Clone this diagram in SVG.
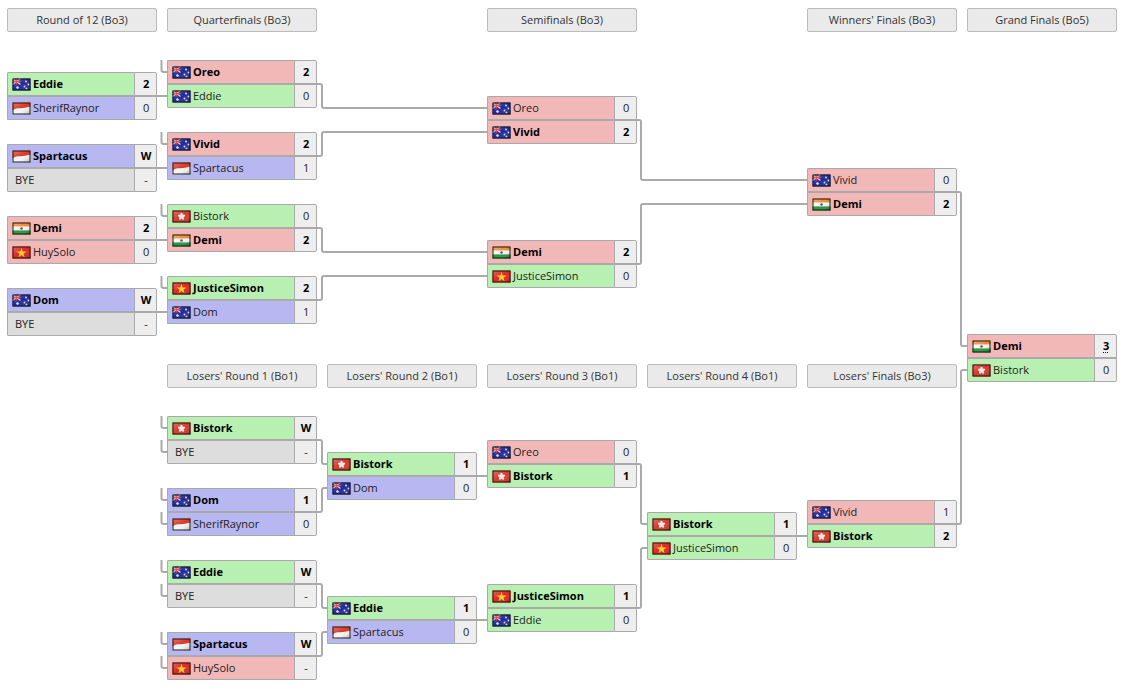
<svg xmlns="http://www.w3.org/2000/svg" width="1125" height="688" viewBox="0 0 1125 688">
<style>
text{font-family:"Open Sans","Noto Sans","Liberation Sans",sans-serif;font-size:11px;fill:#222}
.h rect{fill:#eaeaea;stroke:#bbb;stroke-width:1}
.h text{text-anchor:middle;fill:#333}
.g{fill:#b7f0b1}.r{fill:#f2b7b7}.b{fill:#b7b7f2}.y{fill:#dddddd}.s{fill:#eeeeee}
.f{fill:none;stroke:#aaa;stroke-width:1}
.sep{stroke:#aaa;stroke-width:2;fill:none}
.n{font-weight:400}.w{font-weight:700;fill:#000}
.sc{text-anchor:middle}
.fb{fill:none;stroke:#1a1a1a;stroke-width:1}
#connectors path{fill:none;stroke:#aaa;stroke-width:2;stroke-linejoin:round}
</style>
<defs>
<linearGradient id="sh" x1="0" y1="0" x2="1" y2="1"><stop offset="0" stop-color="#fff" stop-opacity=".3"/><stop offset=".5" stop-color="#fff" stop-opacity="0"/><stop offset="1" stop-color="#000" stop-opacity=".3"/></linearGradient>
<g id="petal"><ellipse cx="9" cy="4.200" rx="1.300" ry="2" fill="#f8e6e2"/></g>
<symbol id="au" width="24" height="24" overflow="visible"><g transform="translate(-.5 .5)"><rect width="18" height="12" fill="#1f2a9a"/><path d="M0 0L8 6M8 0L0 6" stroke="#d8c8d8" stroke-width="1.300"/><path d="M4 0V6M0 3H8" stroke="#d33" stroke-width="1.500"/><circle cx="13.500" cy="3" r="1" fill="#dde"/><circle cx="16" cy="6" r="1" fill="#dde"/><circle cx="12" cy="8" r="1" fill="#dde"/><circle cx="14" cy="10" r="1" fill="#dde"/><circle cx="5" cy="9" r="1.200" fill="#eef"/><rect width="18" height="12" fill="url(#sh)"/><rect class="fb" x=".5" y=".5" width="17" height="11"/></g></symbol>
<symbol id="id" width="24" height="24" overflow="visible"><g transform="translate(-.5 .5)"><rect width="18" height="12" fill="#f6f6f6"/><path d="M0 8C5 4 10 7 18 4V0H0Z" fill="#d8382a"/><rect width="18" height="12" fill="url(#sh)"/><rect class="fb" x=".5" y=".5" width="17" height="11"/></g></symbol>
<symbol id="hk" width="24" height="24" overflow="visible"><g transform="translate(-.5 .5)"><rect width="18" height="12" fill="#d8382a"/><use href="#petal"/><use href="#petal" transform="rotate(72 9 6)"/><use href="#petal" transform="rotate(144 9 6)"/><use href="#petal" transform="rotate(216 9 6)"/><use href="#petal" transform="rotate(288 9 6)"/><rect width="18" height="12" fill="url(#sh)"/><rect class="fb" x=".5" y=".5" width="17" height="11"/></g></symbol>
<symbol id="in" width="24" height="24" overflow="visible"><g transform="translate(-.5 .5)"><rect width="18" height="4.200" fill="#ee8a30"/><rect y="4" width="18" height="4" fill="#f6f6f6"/><rect y="8" width="18" height="4" fill="#1f9a3a"/><circle cx="9" cy="6" r="1.300" fill="#558"/><rect width="18" height="12" fill="url(#sh)"/><rect class="fb" x=".5" y=".5" width="17" height="11"/></g></symbol>
<symbol id="vn" width="24" height="24" overflow="visible"><g transform="translate(-.5 .5)"><rect width="18" height="12" fill="#e0261c"/><path d="M9 1.500L10.300 5L14 5L11 7.200L12.100 10.800L9 8.600L5.900 10.800L7 7.200L4 5L7.700 5Z" fill="#fad02c"/><rect width="18" height="12" fill="url(#sh)"/><rect class="fb" x=".5" y=".5" width="17" height="11"/></g></symbol>
<g id="frame"><rect class="s" x="127.5" y=".5" width="22" height="47"/><rect class="f" x=".5" y=".5" width="149" height="47" rx="1.5"/><path class="f" d="M127.5 .5V47.5"/><path class="sep" d="M0 24H150"/></g>
</defs>
<g id="headers" class="h">
<g id="h1"><rect x="7.500" y="8.500" width="149" height="23" rx="1.500"/><text x="82" y="24">Round of 12 (Bo3)</text></g>
<g id="h2"><rect x="167.500" y="8.500" width="149" height="23" rx="1.500"/><text x="242" y="24">Quarterfinals (Bo3)</text></g>
<g id="h3"><rect x="487.500" y="8.500" width="149" height="23" rx="1.500"/><text x="562" y="24">Semifinals (Bo3)</text></g>
<g id="h4"><rect x="807.500" y="8.500" width="149" height="23" rx="1.500"/><text x="882" y="24">Winners' Finals (Bo3)</text></g>
<g id="h5"><rect x="967.500" y="8.500" width="149" height="23" rx="1.500"/><text x="1042" y="24">Grand Finals (Bo5)</text></g>
<g id="h6"><rect x="167.500" y="364.500" width="149" height="23" rx="1.500"/><text x="242" y="380">Losers' Round 1 (Bo1)</text></g>
<g id="h7"><rect x="327.500" y="364.500" width="149" height="23" rx="1.500"/><text x="402" y="380">Losers' Round 2 (Bo1)</text></g>
<g id="h8"><rect x="487.500" y="364.500" width="149" height="23" rx="1.500"/><text x="562" y="380">Losers' Round 3 (Bo1)</text></g>
<g id="h9"><rect x="647.500" y="364.500" width="149" height="23" rx="1.500"/><text x="722" y="380">Losers' Round 4 (Bo1)</text></g>
<g id="h10"><rect x="807.500" y="364.500" width="149" height="23" rx="1.500"/><text x="882" y="380">Losers' Finals (Bo3)</text></g>
</g>
<g id="r12-1" transform="translate(7 72)"><rect class="g" width="128" height="24"/><rect class="b" y="24" width="128" height="24"/><use href="#frame"/><use href="#au" x="6" y="6"/><text class="w" x="26" y="16">Eddie</text><text class="sc w" x="139.150" y="16">2</text><use href="#id" x="6" y="30"/><text class="n" x="26" y="40">SherifRaynor</text><text class="sc n" x="139.150" y="40">0</text></g>
<g id="r12-2" transform="translate(7 144)"><rect class="b" width="128" height="24"/><rect class="y" y="24" width="128" height="24"/><use href="#frame"/><use href="#id" x="6" y="6"/><text class="w" x="26" y="16">Spartacus</text><text class="sc w" x="139" y="16">W</text><text class="n" x="8" y="40">BYE</text><text class="sc n" x="139" y="40">-</text></g>
<g id="r12-3" transform="translate(7 216)"><rect class="r" width="128" height="24"/><rect class="r" y="24" width="128" height="24"/><use href="#frame"/><use href="#in" x="6" y="6"/><text class="w" x="26" y="16">Demi</text><text class="sc w" x="139.150" y="16">2</text><use href="#vn" x="6" y="30"/><text class="n" x="26" y="40">HuySolo</text><text class="sc n" x="139.150" y="40">0</text></g>
<g id="r12-4" transform="translate(7 288)"><rect class="b" width="128" height="24"/><rect class="y" y="24" width="128" height="24"/><use href="#frame"/><use href="#au" x="6" y="6"/><text class="w" x="26" y="16">Dom</text><text class="sc w" x="139" y="16">W</text><text class="n" x="8" y="40">BYE</text><text class="sc n" x="139" y="40">-</text></g>
<g id="qf-1" transform="translate(167 60)"><rect class="r" width="128" height="24"/><rect class="g" y="24" width="128" height="24"/><use href="#frame"/><use href="#au" x="6" y="6"/><text class="w" x="26" y="16">Oreo</text><text class="sc w" x="139.150" y="16">2</text><use href="#au" x="6" y="30"/><text class="n" x="26" y="40">Eddie</text><text class="sc n" x="139.150" y="40">0</text></g>
<g id="qf-2" transform="translate(167 132)"><rect class="r" width="128" height="24"/><rect class="b" y="24" width="128" height="24"/><use href="#frame"/><use href="#au" x="6" y="6"/><text class="w" x="26" y="16">Vivid</text><text class="sc w" x="139.150" y="16">2</text><use href="#id" x="6" y="30"/><text class="n" x="26" y="40">Spartacus</text><text class="sc n" x="139.150" y="40">1</text></g>
<g id="qf-3" transform="translate(167 204)"><rect class="g" width="128" height="24"/><rect class="r" y="24" width="128" height="24"/><use href="#frame"/><use href="#hk" x="6" y="6"/><text class="n" x="26" y="16">Bistork</text><text class="sc n" x="139.150" y="16">0</text><use href="#in" x="6" y="30"/><text class="w" x="26" y="40">Demi</text><text class="sc w" x="139.150" y="40">2</text></g>
<g id="qf-4" transform="translate(167 276)"><rect class="g" width="128" height="24"/><rect class="b" y="24" width="128" height="24"/><use href="#frame"/><use href="#vn" x="6" y="6"/><text class="w" x="26" y="16">JusticeSimon</text><text class="sc w" x="139.150" y="16">2</text><use href="#au" x="6" y="30"/><text class="n" x="26" y="40">Dom</text><text class="sc n" x="139.150" y="40">1</text></g>
<g id="sf-1" transform="translate(487 96)"><rect class="r" width="128" height="24"/><rect class="r" y="24" width="128" height="24"/><use href="#frame"/><use href="#au" x="6" y="6"/><text class="n" x="26" y="16">Oreo</text><text class="sc n" x="139.150" y="16">0</text><use href="#au" x="6" y="30"/><text class="w" x="26" y="40">Vivid</text><text class="sc w" x="139.150" y="40">2</text></g>
<g id="sf-2" transform="translate(487 240)"><rect class="r" width="128" height="24"/><rect class="g" y="24" width="128" height="24"/><use href="#frame"/><use href="#in" x="6" y="6"/><text class="w" x="26" y="16">Demi</text><text class="sc w" x="139.150" y="16">2</text><use href="#vn" x="6" y="30"/><text class="n" x="26" y="40">JusticeSimon</text><text class="sc n" x="139.150" y="40">0</text></g>
<g id="wf" transform="translate(807 168)"><rect class="r" width="128" height="24"/><rect class="r" y="24" width="128" height="24"/><use href="#frame"/><use href="#au" x="6" y="6"/><text class="n" x="26" y="16">Vivid</text><text class="sc n" x="139.150" y="16">0</text><use href="#in" x="6" y="30"/><text class="w" x="26" y="40">Demi</text><text class="sc w" x="139.150" y="40">2</text></g>
<g id="gf" transform="translate(967 334)"><rect class="r" width="128" height="24"/><rect class="g" y="24" width="128" height="24"/><use href="#frame"/><use href="#in" x="6" y="6"/><text class="w" x="26" y="16">Demi</text><text class="sc w" x="139.150" y="16">3</text><path d="M136 18.500H142" stroke="#111" stroke-width="1" stroke-dasharray="1 1"/><use href="#hk" x="6" y="30"/><text class="n" x="26" y="40">Bistork</text><text class="sc n" x="139.150" y="40">0</text></g>
<g id="lr1-1" transform="translate(167 416)"><rect class="g" width="128" height="24"/><rect class="y" y="24" width="128" height="24"/><use href="#frame"/><use href="#hk" x="6" y="6"/><text class="w" x="26" y="16">Bistork</text><text class="sc w" x="139" y="16">W</text><text class="n" x="8" y="40">BYE</text><text class="sc n" x="139" y="40">-</text></g>
<g id="lr1-2" transform="translate(167 488)"><rect class="b" width="128" height="24"/><rect class="b" y="24" width="128" height="24"/><use href="#frame"/><use href="#au" x="6" y="6"/><text class="w" x="26" y="16">Dom</text><text class="sc w" x="139.150" y="16">1</text><use href="#id" x="6" y="30"/><text class="n" x="26" y="40">SherifRaynor</text><text class="sc n" x="139.150" y="40">0</text></g>
<g id="lr1-3" transform="translate(167 560)"><rect class="g" width="128" height="24"/><rect class="y" y="24" width="128" height="24"/><use href="#frame"/><use href="#au" x="6" y="6"/><text class="w" x="26" y="16">Eddie</text><text class="sc w" x="139" y="16">W</text><text class="n" x="8" y="40">BYE</text><text class="sc n" x="139" y="40">-</text></g>
<g id="lr1-4" transform="translate(167 632)"><rect class="b" width="128" height="24"/><rect class="r" y="24" width="128" height="24"/><use href="#frame"/><use href="#id" x="6" y="6"/><text class="w" x="26" y="16">Spartacus</text><text class="sc w" x="139" y="16">W</text><use href="#vn" x="6" y="30"/><text class="n" x="26" y="40">HuySolo</text><text class="sc n" x="139" y="40">-</text></g>
<g id="lr2-1" transform="translate(327 452)"><rect class="g" width="128" height="24"/><rect class="b" y="24" width="128" height="24"/><use href="#frame"/><use href="#hk" x="6" y="6"/><text class="w" x="26" y="16">Bistork</text><text class="sc w" x="139.150" y="16">1</text><use href="#au" x="6" y="30"/><text class="n" x="26" y="40">Dom</text><text class="sc n" x="139.150" y="40">0</text></g>
<g id="lr2-2" transform="translate(327 596)"><rect class="g" width="128" height="24"/><rect class="b" y="24" width="128" height="24"/><use href="#frame"/><use href="#au" x="6" y="6"/><text class="w" x="26" y="16">Eddie</text><text class="sc w" x="139.150" y="16">1</text><use href="#id" x="6" y="30"/><text class="n" x="26" y="40">Spartacus</text><text class="sc n" x="139.150" y="40">0</text></g>
<g id="lr3-1" transform="translate(487 440)"><rect class="r" width="128" height="24"/><rect class="g" y="24" width="128" height="24"/><use href="#frame"/><use href="#au" x="6" y="6"/><text class="n" x="26" y="16">Oreo</text><text class="sc n" x="139.150" y="16">0</text><use href="#hk" x="6" y="30"/><text class="w" x="26" y="40">Bistork</text><text class="sc w" x="139.150" y="40">1</text></g>
<g id="lr3-2" transform="translate(487 584)"><rect class="g" width="128" height="24"/><rect class="g" y="24" width="128" height="24"/><use href="#frame"/><use href="#vn" x="6" y="6"/><text class="w" x="26" y="16">JusticeSimon</text><text class="sc w" x="139.150" y="16">1</text><use href="#au" x="6" y="30"/><text class="n" x="26" y="40">Eddie</text><text class="sc n" x="139.150" y="40">0</text></g>
<g id="lr4" transform="translate(647 512)"><rect class="g" width="128" height="24"/><rect class="g" y="24" width="128" height="24"/><use href="#frame"/><use href="#hk" x="6" y="6"/><text class="w" x="26" y="16">Bistork</text><text class="sc w" x="139.150" y="16">1</text><use href="#vn" x="6" y="30"/><text class="n" x="26" y="40">JusticeSimon</text><text class="sc n" x="139.150" y="40">0</text></g>
<g id="lf" transform="translate(807 500)"><rect class="r" width="128" height="24"/><rect class="g" y="24" width="128" height="24"/><use href="#frame"/><use href="#au" x="6" y="6"/><text class="n" x="26" y="16">Vivid</text><text class="sc n" x="139.150" y="16">1</text><use href="#hk" x="6" y="30"/><text class="w" x="26" y="40">Bistork</text><text class="sc w" x="139.150" y="40">2</text></g>
<g id="connectors">
<path d="M157 96H167"/><path d="M157 168H167"/><path d="M157 240H167"/><path d="M157 312H167"/>
<path d="M161.500 60V70Q161.500 72 163.500 72H167"/><path d="M161.500 132V142Q161.500 144 163.500 144H167"/><path d="M161.500 204V214Q161.500 216 163.500 216H167"/><path d="M161.500 276V286Q161.500 288 163.500 288H167"/>
<path d="M317 84H320Q322 84 322 86V106Q322 108 324 108H487"/>
<path d="M317 156H320Q322 156 322 154V134Q322 132 324 132H487"/>
<path d="M317 228H320Q322 228 322 230V250Q322 252 324 252H487"/>
<path d="M317 300H320Q322 300 322 298V278Q322 276 324 276H487"/>
<path d="M637 120H639Q641 120 641 122V178Q641 180 643 180H807"/>
<path d="M637 264H639Q641 264 641 262V206Q641 204 643 204H807"/>
<path d="M957 192H959Q961 192 961 194V344Q961 346 963 346H967"/>
<path d="M957 524H959Q961 524 961 522V372Q961 370 963 370H967"/>
<path d="M161.500 416V426Q161.500 428 163.500 428H167"/><path d="M161.500 440V450Q161.500 452 163.500 452H167"/>
<path d="M161.500 488V498Q161.500 500 163.500 500H167"/><path d="M161.500 512V522Q161.500 524 163.500 524H167"/>
<path d="M161.500 560V570Q161.500 572 163.500 572H167"/><path d="M161.500 584V594Q161.500 596 163.500 596H167"/>
<path d="M161.500 632V642Q161.500 644 163.500 644H167"/><path d="M161.500 656V666Q161.500 668 163.500 668H167"/>
<path d="M317 440H320Q322 440 322 442V462Q322 464 324 464H327"/>
<path d="M317 512H320Q322 512 322 510V490Q322 488 324 488H327"/>
<path d="M317 584H320Q322 584 322 586V606Q322 608 324 608H327"/>
<path d="M317 656H320Q322 656 322 654V634Q322 632 324 632H327"/>
<path d="M477 476H487"/><path d="M477 620H487"/>
<path d="M637 464H639Q641 464 641 466V522Q641 524 643 524H647"/>
<path d="M637 608H639Q641 608 641 606V550Q641 548 643 548H647"/>
<path d="M797 536H807"/>
</g>
</svg>
